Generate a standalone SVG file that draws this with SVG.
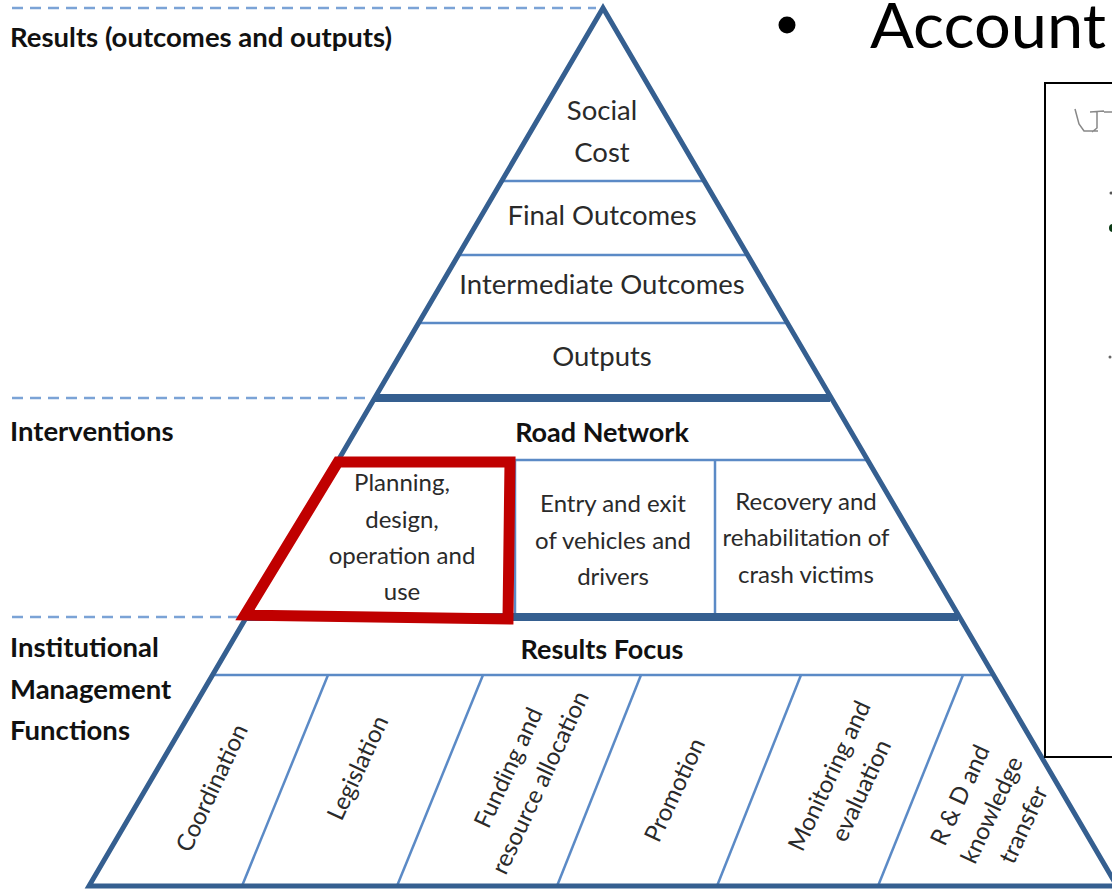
<svg xmlns="http://www.w3.org/2000/svg" width="1112" height="890" viewBox="0 0 1112 890">
<style>
.t{font-family:Lato,"Liberation Sans",sans-serif;font-size:27.5px;fill:#2a2a2a;text-anchor:middle}
.s{font-family:Lato,"Liberation Sans",sans-serif;font-size:24px;fill:#2a2a2a;text-anchor:middle}
.b{font-family:Lato,"Liberation Sans",sans-serif;font-size:27.5px;font-weight:bold;fill:#111}
.bc{font-family:Lato,"Liberation Sans",sans-serif;font-size:27px;font-weight:bold;fill:#111;text-anchor:middle}
.thin{stroke:#5b8ac6;stroke-width:2.5;fill:none}
.thick{stroke:#355f90;stroke-width:8;fill:none}
.dash{stroke:#7ba3d6;stroke-width:2.5;stroke-dasharray:11 7;fill:none}
</style>
<rect width="1112" height="890" fill="#fff"/>
<g id="level-guides">
<line class="dash" x1="12" y1="8" x2="596" y2="8"/>
<line class="dash" x1="12" y1="398" x2="370" y2="398"/>
<line class="dash" x1="12" y1="617" x2="242" y2="617"/>
<text class="b" x="10" y="47">Results (outcomes and outputs)</text>
<text class="b" x="10" y="441">Interventions</text>
<text class="b" x="10" y="657">Institutional</text>
<text class="b" x="10" y="699">Management</text>
<text class="b" x="10" y="740">Functions</text>
</g>
<g id="connectors">
<line class="thin" x1="501" y1="181" x2="703" y2="181"/>
<line class="thin" x1="458" y1="255" x2="746" y2="255"/>
<line class="thin" x1="418" y1="323" x2="786" y2="323"/>
<line class="thin" x1="338" y1="460" x2="866" y2="460"/>
<line class="thin" x1="212" y1="675" x2="992" y2="675"/>
<line class="thin" x1="515" y1="460" x2="515" y2="617"/>
<line class="thin" x1="715" y1="460" x2="715" y2="617"/>
<line class="thin" x1="328" y1="675" x2="242" y2="886"/>
<line class="thin" x1="483" y1="675" x2="397" y2="886"/>
<line class="thin" x1="641" y1="675" x2="557" y2="886"/>
<line class="thin" x1="801" y1="675" x2="717" y2="886"/>
<line class="thin" x1="963" y1="675" x2="878" y2="886"/>
<line class="thick" x1="374" y1="398" x2="830" y2="398"/>
<line class="thick" x1="246" y1="617" x2="958" y2="617"/>
<path d="M89,886 L603,8 L1117,886 Z" fill="none" stroke="#355f90" stroke-width="5" stroke-linejoin="miter"/>
</g>
<g id="social-cost"><text class="t" x="602" y="120">Social</text><text class="t" x="602" y="162">Cost</text></g>
<g id="final-outcomes"><text class="t" x="602" y="225">Final Outcomes</text></g>
<g id="intermediate-outcomes"><text class="t" x="602" y="294">Intermediate Outcomes</text></g>
<g id="outputs"><text class="t" x="602" y="366">Outputs</text></g>
<g id="road-network"><text class="bc" x="602" y="442">Road Network</text></g>
<g id="planning">
<text class="s" x="402" y="491">Planning,</text>
<text class="s" x="402" y="528">design,</text>
<text class="s" x="402" y="564">operation and</text>
<text class="s" x="402" y="600">use</text>
<path d="M338,462 L510,462 L508,619 L245,615 Z" fill="none" stroke="#c00000" stroke-width="11" stroke-linejoin="miter"/>
</g>
<g id="entry-exit">
<text class="s" x="613" y="512">Entry and exit</text>
<text class="s" x="613" y="549">of vehicles and</text>
<text class="s" x="613" y="585">drivers</text>
</g>
<g id="recovery">
<text class="s" x="806" y="510">Recovery and</text>
<text class="s" x="806" y="546">rehabilitation of</text>
<text class="s" x="806" y="583">crash victims</text>
</g>
<g id="results-focus"><text class="bc" x="602" y="659">Results Focus</text></g>
<g id="coordination"><text class="s" transform="translate(212,788) rotate(-65)" y="8">Coordination</text></g>
<g id="legislation"><text class="s" transform="translate(358,768) rotate(-65)" y="8">Legislation</text></g>
<g id="funding"><g transform="translate(524,775) rotate(-65)"><text class="s" y="-9">Funding and</text><text class="s" y="26">resource allocation</text></g></g>
<g id="promotion"><text class="s" transform="translate(675,790) rotate(-65)" y="8">Promotion</text></g>
<g id="monitoring"><g transform="translate(845,783) rotate(-65)"><text class="s" y="-9">Monitoring and</text><text class="s" y="26">evaluation</text></g></g>
<g id="rd"><g transform="translate(992,810) rotate(-65)"><text class="s" y="-27">R &amp; D and</text><text class="s" y="8">knowledge</text><text class="s" y="43">transfer</text></g></g>
<g id="accountability">
<circle cx="787" cy="25" r="8.5" fill="#000"/>
<text x="870" y="48" font-family="Lato,'Liberation Sans',sans-serif" font-size="61" fill="#000" textLength="236" lengthAdjust="spacingAndGlyphs">Account</text>
</g>
<g id="side-panel">
<rect x="1045" y="83" width="90" height="674" fill="none" stroke="#000" stroke-width="2"/>
<path d="M1075,109 L1079,124 L1084,131 L1098,131 M1090,112 L1104,111 M1097,112 L1097,128 L1092,132 M1104,112 L1112,112" fill="none" stroke="#888" stroke-width="1.5"/>
<circle cx="1113" cy="228" r="4" fill="#0a3a14"/>
<circle cx="1110" cy="357" r="1.5" fill="#666"/>
<circle cx="1111" cy="193" r="1.5" fill="#555"/>
</g>
</svg>
